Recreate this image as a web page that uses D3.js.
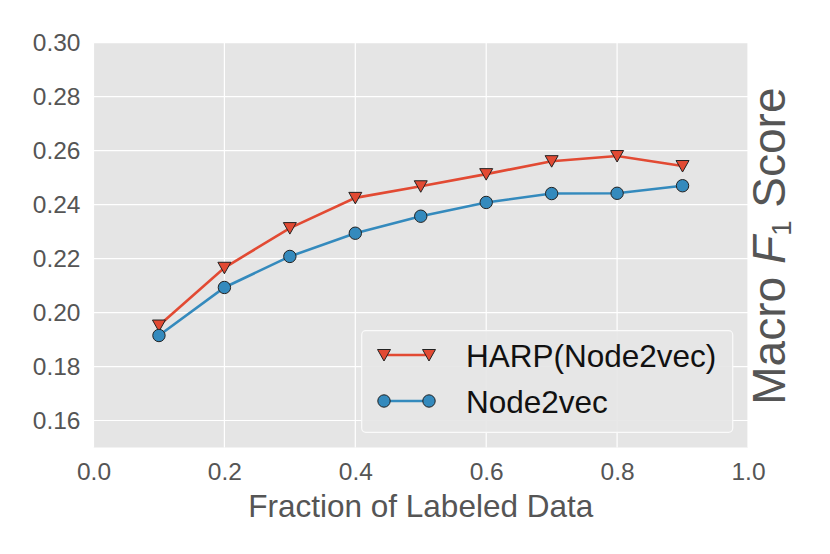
<!DOCTYPE html>
<html>
<head>
<meta charset="utf-8">
<script src="https://cdn.jsdelivr.net/npm/d3@7"></script>
<style>
  html, body { margin: 0; padding: 0; background: #fff; }
  svg { display: block; font-family: "Liberation Sans", Arial, sans-serif; }
</style>
</head>
<body>
<svg id="chart" width="830" height="554"></svg>
<script>
const fractions = [0.1, 0.2, 0.3, 0.4, 0.5, 0.6, 0.7, 0.8, 0.9];
const harpNode2vec = [0.1952, 0.2166, 0.2313, 0.2425, 0.2468, 0.2513, 0.2561, 0.2580, 0.2543];
const node2vec = [0.1915, 0.2093, 0.2208, 0.2294, 0.2357, 0.2408, 0.2441, 0.2442, 0.2470];
const xTicks = [0.0, 0.2, 0.4, 0.6, 0.8, 1.0];
const yTicks = [0.16, 0.18, 0.20, 0.22, 0.24, 0.26, 0.28, 0.30];
const seriesNames = ["HARP(Node2vec)", "Node2vec"];

const svg = d3.select("#chart");
const pL = 93.5, pR = 748, pT = 42.7, pB = 447.5;
const x = d3.scaleLinear().domain([0, 1]).range([pL, pR]);
const y = d3.scaleLinear().domain([0.15, 0.30]).range([pB, pT]);

const red = "#E24A33", blue = "#348ABD";

svg.append("rect").attr("x", pL).attr("y", pT)
  .attr("width", pR - pL).attr("height", pB - pT).attr("fill", "#E5E5E5");

// grid
svg.append("g").selectAll("line").data(xTicks).join("line")
  .attr("x1", d => x(d)).attr("x2", d => x(d)).attr("y1", pT).attr("y2", pB)
  .attr("stroke", "#fff").attr("stroke-width", 1.2);
svg.append("g").selectAll("line").data(yTicks).join("line")
  .attr("x1", pL).attr("x2", pR).attr("y1", d => y(d)).attr("y2", d => y(d))
  .attr("stroke", "#fff").attr("stroke-width", 1.2);

// axes
const xAxis = d3.axisBottom(x).tickValues(xTicks).tickFormat(d3.format(".1f")).tickSize(0).tickPadding(15.5);
const gx = svg.append("g").attr("transform", `translate(0,${pB})`).call(xAxis);
gx.select(".domain").remove();
gx.selectAll("text").attr("fill", "#555").attr("font-size", 24.5)
  .attr("font-family", "'Liberation Sans', Arial, sans-serif");

const yAxis = d3.axisLeft(y).tickValues(yTicks).tickFormat(d3.format(".2f")).tickSize(0).tickPadding(13);
const gy = svg.append("g").attr("transform", `translate(${pL},0)`).call(yAxis);
gy.select(".domain").remove();
gy.selectAll("text").attr("fill", "#555").attr("font-size", 24.5)
  .attr("font-family", "'Liberation Sans', Arial, sans-serif");

// axis labels
svg.append("text").attr("x", (pL + pR) / 2).attr("y", 517)
  .attr("text-anchor", "middle").attr("fill", "#555").attr("font-size", 31.5)
  .text("Fraction of Labeled Data");

const yl = svg.append("text")
  .attr("transform", `translate(785,${(pT + pB) / 2 + 1}) rotate(-90)`)
  .attr("text-anchor", "middle").attr("fill", "#555").attr("font-size", 46);
yl.append("tspan").text("Macro ");
yl.append("tspan").attr("font-style", "italic").text("F");
yl.append("tspan").attr("font-size", 28).attr("dy", 6).text("1");
yl.append("tspan").attr("dy", -6).text(" Score");

// lines
const line = d3.line().x(d => x(d[0])).y(d => y(d[1]));
const harpData = fractions.map((f, i) => [f, harpNode2vec[i]]);
const n2vData = fractions.map((f, i) => [f, node2vec[i]]);

svg.append("path").datum(harpData).attr("d", line).attr("fill", "none")
  .attr("stroke", red).attr("stroke-width", 2.6);
svg.append("path").datum(n2vData).attr("d", line).attr("fill", "none")
  .attr("stroke", blue).attr("stroke-width", 2.6);

const tri = "M0,6 L-6.5,-5.5 L6.5,-5.5 Z";
svg.append("g").selectAll("path").data(harpData).join("path")
  .attr("d", tri).attr("transform", d => `translate(${x(d[0])},${y(d[1])})`)
  .attr("fill", red).attr("stroke", "#222").attr("stroke-width", 1);
svg.append("g").selectAll("circle").data(n2vData).join("circle")
  .attr("cx", d => x(d[0])).attr("cy", d => y(d[1])).attr("r", 6.2)
  .attr("fill", blue).attr("stroke", "#222").attr("stroke-width", 1);

// legend
const lg = svg.append("g");
lg.append("rect").attr("x", 361.7).attr("y", 330.7).attr("width", 371).attr("height", 101.6)
  .attr("rx", 4).attr("fill", "#E5E5E5").attr("fill-opacity", 0.9)
  .attr("stroke", "#fafafa").attr("stroke-width", 1.2);
const rows = [355, 401];
const colors = [red, blue];
seriesNames.forEach((name, i) => {
  const ry = rows[i];
  lg.append("line").attr("x1", 384).attr("x2", 429).attr("y1", ry).attr("y2", ry)
    .attr("stroke", colors[i]).attr("stroke-width", 2.6);
  [384, 429].forEach(mx => {
    if (i === 0) {
      lg.append("path").attr("d", tri).attr("transform", `translate(${mx},${ry})`)
        .attr("fill", red).attr("stroke", "#222").attr("stroke-width", 1);
    } else {
      lg.append("circle").attr("cx", mx).attr("cy", ry).attr("r", 6.2)
        .attr("fill", blue).attr("stroke", "#222").attr("stroke-width", 1);
    }
  });
  lg.append("text").attr("x", 466).attr("y", ry + 11.5).attr("font-size", 31.5)
    .attr("fill", "#111").text(name);
});
</script>
</body>
</html>
